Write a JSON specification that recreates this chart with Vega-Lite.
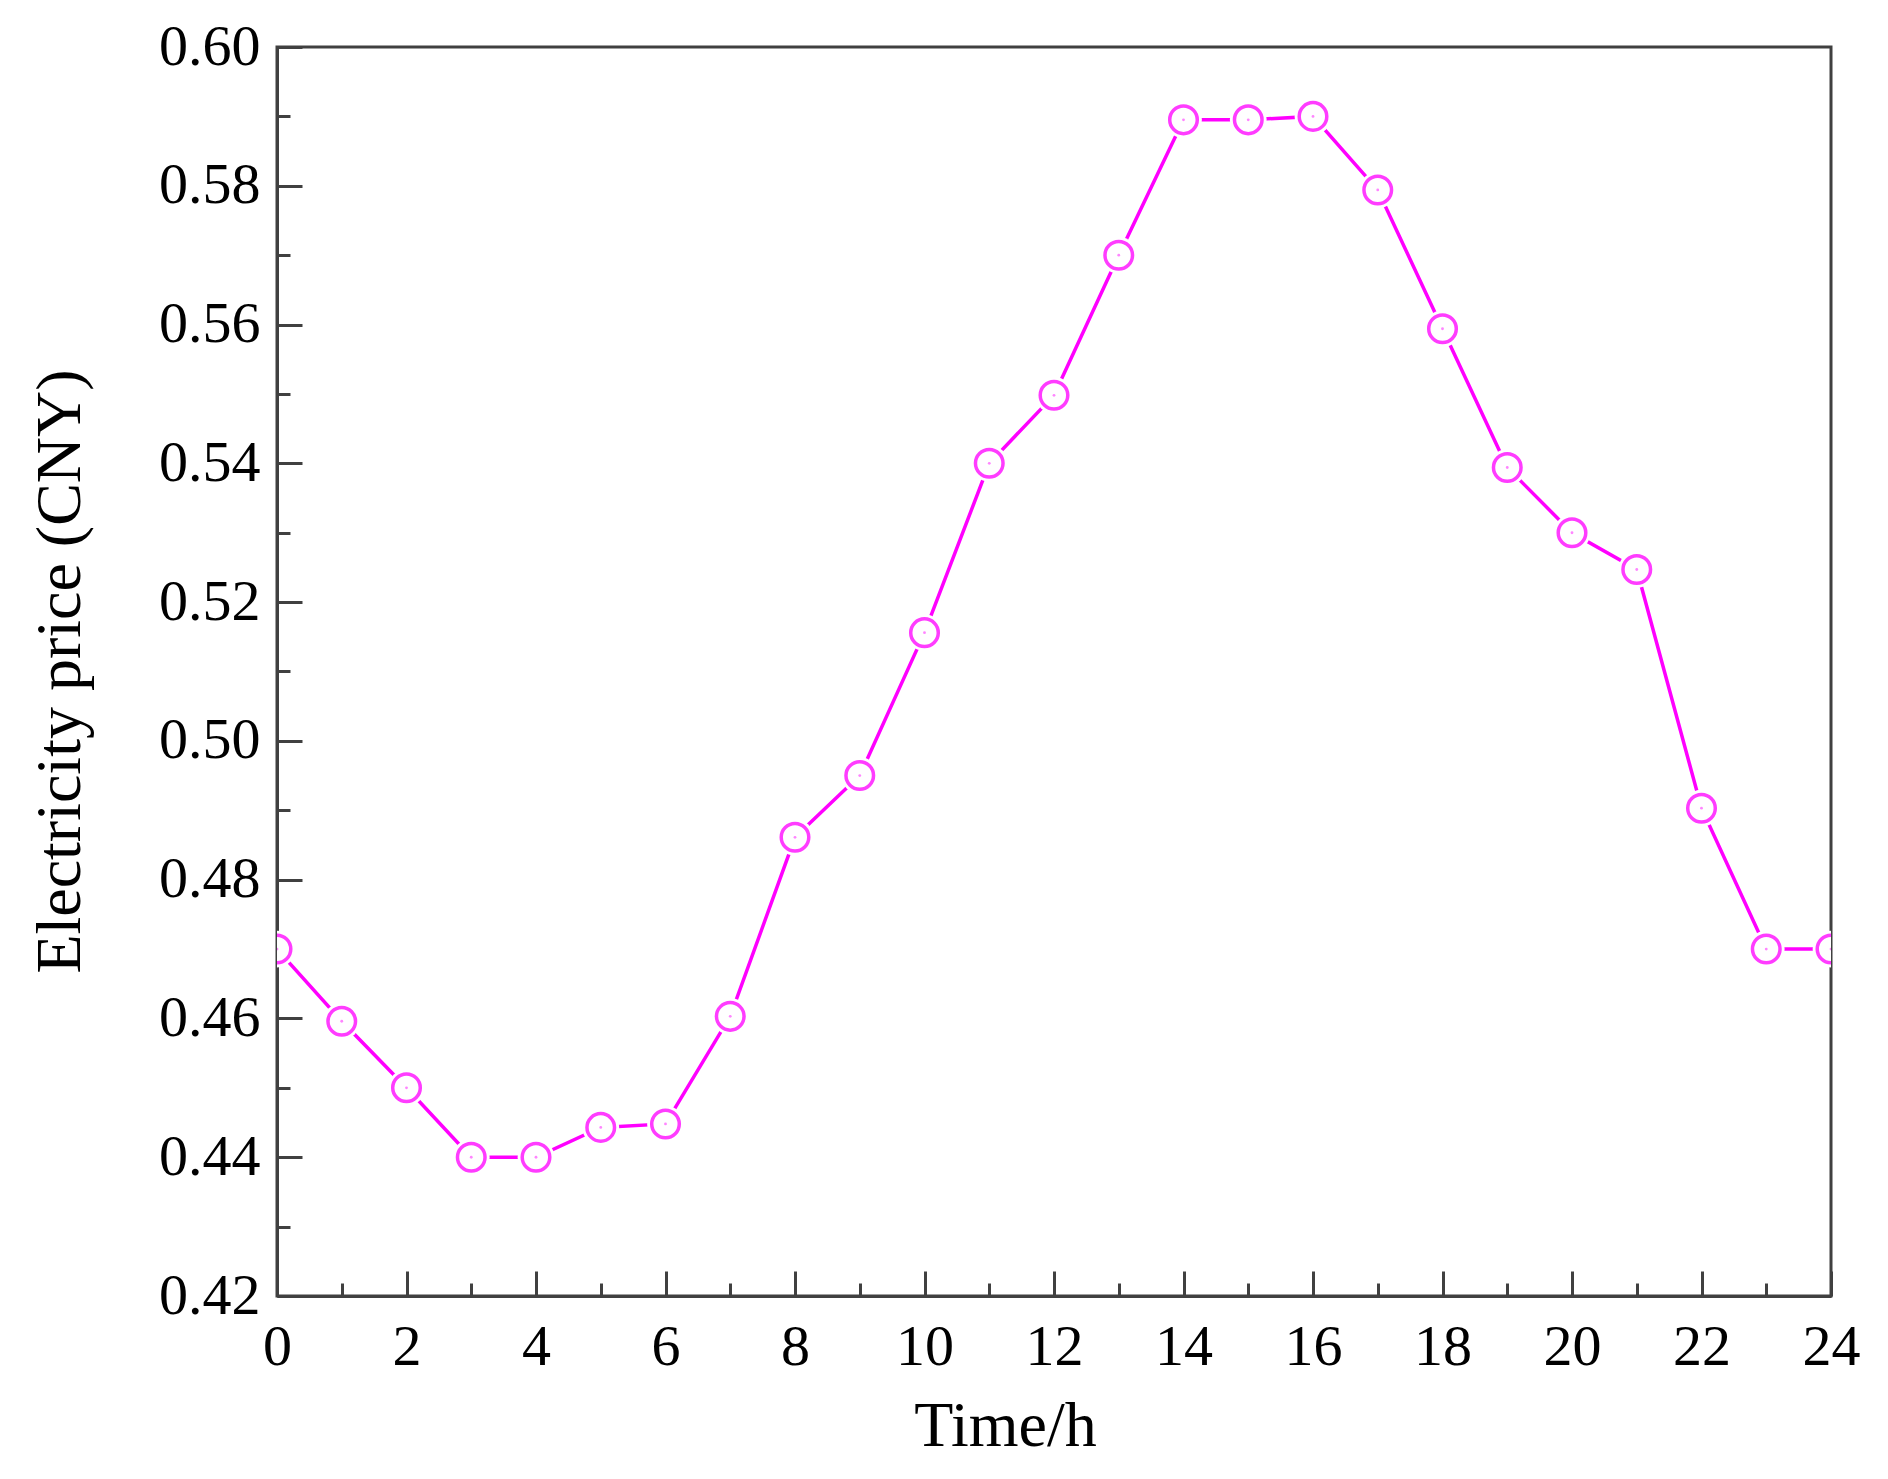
{
  "$schema": "https://vega.github.io/schema/vega-lite/v6.json",
  "width": 1554,
  "height": 1249,
  "autosize": {"type": "none"},
  "padding": {"left": 277, "top": 47, "right": 57, "bottom": 183},
  "background": "white",
  "config": {
    "view": {"stroke": "#404040", "strokeWidth": 3},
    "axis": {
      "grid": false,
      "domainColor": "#404040",
      "domainWidth": 3,
      "tickColor": "#404040",
      "tickWidth": 3,
      "labelFont": "Liberation Serif",
      "labelColor": "black",
      "titleFont": "Liberation Serif",
      "titleColor": "black",
      "titleFontWeight": "normal",
      "labelFlush": false,
      "labelOverlap": false
    }
  },
  "data": {
    "values": [
      {"hour": 0, "price": 0.470},
      {"hour": 1, "price": 0.4596},
      {"hour": 2, "price": 0.450},
      {"hour": 3, "price": 0.440},
      {"hour": 4, "price": 0.440},
      {"hour": 5, "price": 0.4443},
      {"hour": 6, "price": 0.4448},
      {"hour": 7, "price": 0.4603},
      {"hour": 8, "price": 0.4861},
      {"hour": 9, "price": 0.495},
      {"hour": 10, "price": 0.5156},
      {"hour": 11, "price": 0.540},
      {"hour": 12, "price": 0.5498},
      {"hour": 13, "price": 0.570},
      {"hour": 14, "price": 0.5895},
      {"hour": 15, "price": 0.5895},
      {"hour": 16, "price": 0.590},
      {"hour": 17, "price": 0.5794},
      {"hour": 18, "price": 0.5594},
      {"hour": 19, "price": 0.5394},
      {"hour": 20, "price": 0.530},
      {"hour": 21, "price": 0.5247},
      {"hour": 22, "price": 0.4903},
      {"hour": 23, "price": 0.470},
      {"hour": 24, "price": 0.470}
    ]
  },
  "layer": [
    {
      "mark": {"type": "line", "color": "#ff00ff", "strokeWidth": 3.5, "clip": true},
      "encoding": {
        "x": {
          "field": "hour", "type": "quantitative",
          "scale": {"domain": [0, 24], "nice": false, "zero": false},
          "axis": {
            "orient": "bottom",
            "values": [0, 2, 4, 6, 8, 10, 12, 14, 16, 18, 20, 22, 24],
            "tickSize": -25,
            "labelFontSize": 58,
            "labelPadding": 47,
            "labelBaseline": "top",
            "title": "Time/h",
            "titleFontSize": 64,
            "titleX": 728,
            "titleY": 149,
            "titleBaseline": "alphabetic",
            "titleAlign": "center"
          }
        },
        "y": {
          "field": "price", "type": "quantitative",
          "scale": {"domain": [0.42, 0.60], "nice": false, "zero": false},
          "axis": {
            "orient": "left",
            "values": [0.42, 0.44, 0.46, 0.48, 0.50, 0.52, 0.54, 0.56, 0.58, 0.60],
            "format": ".2f",
            "tickSize": -25,
            "labelFontSize": 58,
            "labelPadding": 42,
            "labelBaseline": "middle",
            "title": "Electricity price (CNY)",
            "titleFontSize": 64,
            "titleAngle": -90,
            "titleX": -217,
            "titleY": 624,
            "titleBaseline": "middle",
            "titleAlign": "center"
          }
        }
      }
    },
    {
      "mark": {"type": "point", "shape": "circle", "filled": true, "color": "white", "opacity": 1, "size": 1350, "clip": true},
      "encoding": {
        "x": {"field": "hour", "type": "quantitative", "axis": null},
        "y": {"field": "price", "type": "quantitative", "axis": null}
      }
    },
    {
      "mark": {"type": "point", "shape": "circle", "filled": false, "color": "#ff3cff", "strokeWidth": 3.5, "opacity": 1, "size": 760, "clip": true},
      "encoding": {
        "x": {
          "field": "hour", "type": "quantitative",
          "axis": {
            "orient": "bottom",
            "values": [1, 3, 5, 7, 9, 11, 13, 15, 17, 19, 21, 23],
            "tickSize": -13,
            "labels": false,
            "domain": false,
            "title": null
          }
        },
        "y": {
          "field": "price", "type": "quantitative",
          "axis": {
            "orient": "left",
            "values": [0.43, 0.45, 0.47, 0.49, 0.51, 0.53, 0.55, 0.57, 0.59],
            "tickSize": -13,
            "labels": false,
            "domain": false,
            "title": null
          }
        }
      }
    },
    {
      "mark": {"type": "point", "shape": "circle", "filled": true, "color": "#ff66ff", "opacity": 0.8, "size": 8, "clip": true},
      "encoding": {
        "x": {"field": "hour", "type": "quantitative", "axis": null},
        "y": {"field": "price", "type": "quantitative", "axis": null}
      }
    }
  ],
  "resolve": {"axis": {"x": "independent", "y": "independent"}}
}
